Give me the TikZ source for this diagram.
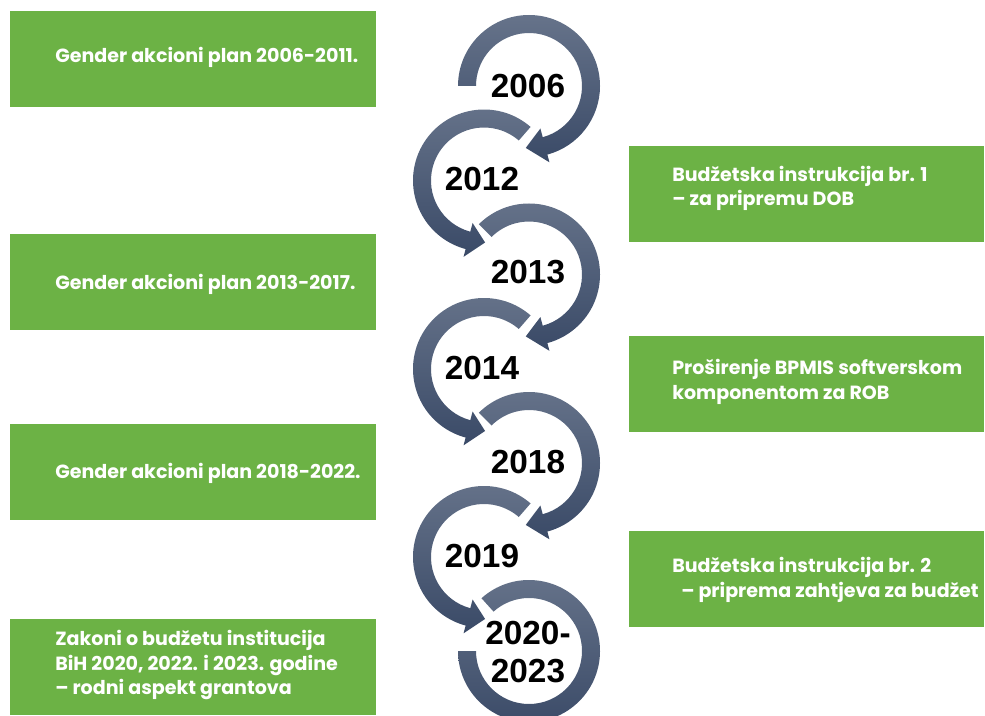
\documentclass[tikz,border=0pt]{standalone}
\usepackage{fontspec}
\setmainfont{Poppins}
\newfontfamily\yearfont{Liberation Sans}
\definecolor{boxgreen}{RGB}{108,178,69}
\definecolor{ringtop}{RGB}{102,115,138}
\definecolor{ringbot}{RGB}{58,74,103}
\newcommand{\ringarrow}[5]{%
  \begin{scope}[shift={(#1,715-#2)}]
    \path[ringshade] (#3:71) arc[start angle=#3,end angle=#4,radius=71]
      -- (#4:79) -- (#5:62) -- (#4:44) -- (#4:53)
      arc[start angle=#4,end angle=#3,radius=53] -- cycle;
  \end{scope}}
\begin{document}
\begin{tikzpicture}[x=0.75pt,y=0.75pt,
  ringshade/.style={top color=ringtop,bottom color=ringbot},
  lbox/.style={fill=boxgreen,minimum width=274.5pt,minimum height=72pt,inner sep=0pt,draw=none},
  rbox/.style={fill=boxgreen,minimum width=266.25pt,minimum height=72pt,inner sep=0pt,draw=none},
  btext/.style={anchor=west,inner sep=0pt,align=left,text=white,font=\fontsize{14.3}{18.3}\selectfont\bfseries},
  year/.style={inner sep=0pt,align=center,text=black,font=\yearfont\fontsize{25}{29}\selectfont\bfseries}]
\useasboundingbox (0,0) rectangle (985,715);
\clip (0,0) rectangle (985,715);
% boxes
\node[lbox] (L1) at (193,715-59) {};
\node[lbox] (L2) at (193,715-282) {};
\node[lbox] (L3) at (193,715-472) {};
\node[lbox] (L4) at (193,715-667) {};
\node[rbox] (R1) at (806.5,715-194) {};
\node[rbox] (R2) at (806.5,715-384) {};
\node[rbox] (R3) at (806.5,715-579) {};
% box texts
\node[btext] (tL1) at (55,715-57) {Gender akcioni plan 2006-2011.};
\node[btext] (tL2) at (55,715-284) {Gender akcioni plan 2013-2017.};
\node[btext] (tL3) at (55,715-473) {Gender akcioni plan 2018-2022.};
\node[btext] (tL4) at (55,715-665) {Zakoni o budžetu institucija\\BiH 2020, 2022. i 2023. godine\\– rodni aspekt grantova};
\node[btext] (tR1) at (672,715-188.5) {Budžetska instrukcija br. 1\\– za pripremu DOB};
\node[btext] (tR2) at (672,715-382) {Proširenje BPMIS softverskom\\komponentom za ROB};
\node[btext] (tR3) at (672,715-580) {Budžetska instrukcija br. 2\\\hspace{6.75pt}– priprema zahtjeva za budžet};
% circular arrows
\ringarrow{529}{86}{180}{-75}{-93}
\ringarrow{484}{180.5}{49}{255}{271}
\ringarrow{529}{274.5}{135}{-75}{-93}
\ringarrow{484}{369}{49}{255}{271}
\ringarrow{529}{463}{135}{-75}{-93}
\ringarrow{484}{557}{49}{255}{271}
\begin{scope}[shift={(529,715-651)}]
  \path[ringshade] (132:71) arc[start angle=132,end angle=-180,radius=71]
    -- (-180:53) arc[start angle=-180,end angle=132,radius=53] -- cycle;
\end{scope}
% years
\node[year] (y2006) at (528,715-86) {2006};
\node[year] (y2012) at (482,715-179) {2012};
\node[year] (y2013) at (528,715-272) {2013};
\node[year] (y2014) at (482,715-368) {2014};
\node[year] (y2018) at (528,715-462) {2018};
\node[year] (y2019) at (482,715-556) {2019};
\node[year] (y2020) at (528,715-652) {2020-\\2023};
\end{tikzpicture}
\end{document}
